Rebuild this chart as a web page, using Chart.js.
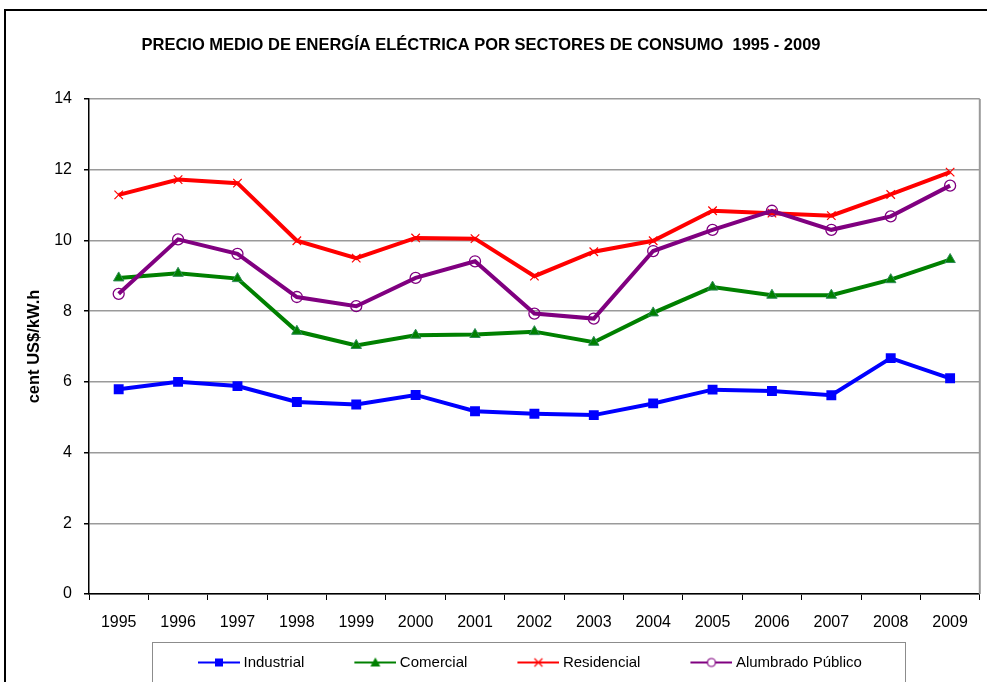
<!DOCTYPE html>
<html>
<head>
<meta charset="utf-8">
<script src="https://cdn.jsdelivr.net/npm/chart.js@4.4.1/dist/chart.umd.min.js"></script>
<style>
  html, body { margin: 0; padding: 0; background: #fff; }
  #wrap { width: 987px; height: 682px; }
</style>
</head>
<body>
<div id="wrap"><canvas id="lineChart" width="987" height="682"></canvas></div>
<script>
const years = ['1995', '1996', '1997', '1998', '1999', '2000', '2001', '2002', '2003', '2004', '2005', '2006', '2007', '2008', '2009'];
const industrial = [5.79, 6.00, 5.88, 5.43, 5.36, 5.63, 5.17, 5.10, 5.06, 5.39, 5.78, 5.74, 5.62, 6.67, 6.10];
const comercial = [8.94, 9.07, 8.92, 7.43, 7.03, 7.32, 7.34, 7.42, 7.12, 7.95, 8.68, 8.45, 8.45, 8.89, 9.46];
const residencial = [11.29, 11.72, 11.62, 9.99, 9.50, 10.07, 10.05, 8.99, 9.68, 9.99, 10.84, 10.77, 10.70, 11.30, 11.93];
const alumbrado = [8.49, 10.03, 9.62, 8.40, 8.14, 8.94, 9.41, 7.93, 7.79, 9.70, 10.30, 10.84, 10.30, 10.68, 11.55];
const yTicks = [0, 2, 4, 6, 8, 10, 12, 14];

const FONT = 'Liberation Sans, Arial, sans-serif';

// legend icon: short line with the marker in the middle, transparent gap on the left
function legendIcon(color, marker) {
    const c = document.createElement('canvas');
    c.width = 88; c.height = 14;
    const g = c.getContext('2d');
    g.strokeStyle = color; g.fillStyle = color; g.lineWidth = 2;
    g.beginPath(); g.moveTo(46, 7); g.lineTo(88, 7); g.stroke();
    g.lineWidth = 1.2;
    const cx = 67;
    if (marker === 'rect') {
        g.fillRect(cx - 4, 3, 8, 8);
    } else if (marker === 'triangle') {
        g.beginPath(); g.moveTo(cx, 2); g.lineTo(cx + 5, 11); g.lineTo(cx - 5, 11); g.closePath(); g.fill();
    } else if (marker === 'cross') {
        g.beginPath(); g.moveTo(cx - 4, 3); g.lineTo(cx + 4, 11); g.moveTo(cx + 4, 3); g.lineTo(cx - 4, 11); g.stroke();
    } else {
        g.fillStyle = '#fff';
        g.beginPath(); g.arc(cx, 7, 4, 0, Math.PI * 2); g.fill(); g.stroke();
    }
    return c;
}

const icons = [
    legendIcon('#0000ff', 'rect'),
    legendIcon('#008000', 'triangle'),
    legendIcon('#ff0000', 'cross'),
    legendIcon('#800080', 'circle')
];

const framePlugin = {
    id: 'frame',
    afterLayout(chart) {
        const lg = chart.legend;
        const pad = lg.options.labels.padding;
        const lineStart = (lg.left + lg.right + pad - lg.lineWidths[0]) / 2;
        const dx = 156 - lineStart;
        lg.left += dx; lg.right += dx;
        // title sits a bit left of the canvas centre
        chart.titleBlock.left -= 15;
        chart.titleBlock.right -= 15;
    },
    beforeDraw(chart) {
        const c = chart.ctx;
        c.save();
        c.fillStyle = '#fff';
        c.fillRect(0, 0, chart.width, chart.height);
        c.strokeStyle = '#000';
        c.lineWidth = 2;
        c.strokeRect(5, 10, 1000, 700);
        c.restore();
    },
    beforeDatasetsDraw(chart) {
        const a = chart.chartArea, c = chart.ctx;
        c.save();
        c.strokeStyle = '#9a9a9a';
        c.lineWidth = 2;
        c.beginPath(); c.moveTo(a.right, a.top); c.lineTo(a.right, a.bottom); c.stroke();
        c.restore();
    },
    afterDraw(chart) {
        const boxes = chart.legend.legendHitBoxes;
        if (!boxes || !boxes.length) return;
        const first = boxes[0], last = boxes[boxes.length - 1];
        const c = chart.ctx;
        const x0 = first.left - 4;
        const x1 = last.left + last.width + 43;
        c.save();
        c.strokeStyle = '#8c8c8c';
        c.lineWidth = 1;
        c.strokeRect(Math.round(x0) + 0.5, 642.5, Math.round(x1 - x0), 50);
        c.restore();
    }
};

const ctx = document.getElementById('lineChart').getContext('2d');
const myChart = new Chart(ctx, {
    type: 'line',
    data: {
        labels: years,
        datasets: [{
            label: 'Industrial',
            data: industrial,
            borderColor: '#0000ff',
            backgroundColor: '#0000ff',
            borderWidth: 4,
            pointStyle: 'rect',
            pointRadius: 7,
            pointBorderWidth: 0,
            order: 4
        }, {
            label: 'Comercial',
            data: comercial,
            borderColor: '#008000',
            backgroundColor: '#008000',
            borderWidth: 4,
            pointStyle: 'triangle',
            pointRadius: 6,
            pointBorderColor: '#2e8b57',
            pointBorderWidth: 1,
            order: 3
        }, {
            label: 'Residencial',
            data: residencial,
            borderColor: '#ff0000',
            backgroundColor: '#ff0000',
            borderWidth: 4,
            pointStyle: 'crossRot',
            pointRadius: 6,
            pointBorderWidth: 1.2,
            order: 2
        }, {
            label: 'Alumbrado Público',
            data: alumbrado,
            borderColor: '#800080',
            backgroundColor: 'rgba(0,0,0,0)',
            borderWidth: 4,
            pointStyle: 'circle',
            pointRadius: 5.5,
            pointBorderWidth: 1.3,
            order: 1
        }]
    },
    options: {
        responsive: false,
        animation: false,
        layout: { padding: { left: 10, right: 5, top: 10, bottom: 2 } },
        plugins: {
            title: {
                display: true,
                text: 'PRECIO MEDIO DE ENERGÍA ELÉCTRICA POR SECTORES DE CONSUMO  1995 - 2009',
                color: '#000',
                font: { family: FONT, size: 16.5, weight: 'bold' },
                padding: { top: 26, bottom: 43.2 }
            },
            legend: {
                position: 'bottom',
                labels: {
                    color: '#000',
                    font: { family: FONT, size: 15 },
                    usePointStyle: true,
                    pointStyleWidth: 80,
                    boxHeight: 14,
                    padding: 8,
                    sort: (a, b) => a.datasetIndex - b.datasetIndex,
                    generateLabels(chart) {
                        const items = Chart.defaults.plugins.legend.labels.generateLabels(chart);
                        items.forEach(it => { it.pointStyle = icons[it.datasetIndex]; });
                        return items;
                    }
                }
            },
            tooltip: { enabled: false }
        },
        scales: {
            x: {
                offset: true,
                grid: { display: true, drawOnChartArea: false, tickLength: 6, tickColor: '#000', offset: true },
                border: { color: '#000', width: 1.5 },
                ticks: { color: '#000', font: { family: FONT, size: 16 }, padding: 13.4, maxRotation: 0 },
                afterFit(scale) { scale.height = 53; }
            },
            y: {
                min: 0,
                max: 14,
                afterBuildTicks(scale) { scale.ticks = yTicks.map(v => ({ value: v })); },
                grid: { color: '#9a9a9a', lineWidth: 1.5, tickLength: 5, tickColor: '#000' },
                border: { color: '#000', width: 1.5 },
                ticks: { color: '#000', font: { family: FONT, size: 16 }, padding: 12 },
                title: {
                    display: true,
                    text: 'cent US$/kW.h',
                    color: '#000',
                    font: { family: FONT, size: 16.5, weight: 'bold' },
                    padding: { top: 15, bottom: 0 }
                },
                afterFit(scale) { scale.width = 79; }
            }
        }
    },
    plugins: [framePlugin]
});
</script>
</body>
</html>
